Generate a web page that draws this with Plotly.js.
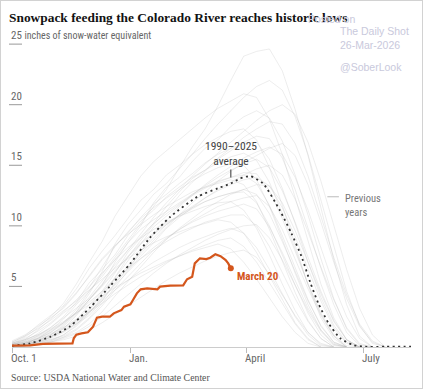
<!DOCTYPE html>
<html><head><meta charset="utf-8">
<script src="https://cdn.plot.ly/plotly-3.0.1.min.js"></script>
<style>html,body{margin:0;padding:0;background:#fff}#frame{position:absolute;left:0;top:0;width:423px;height:389px;box-sizing:border-box;border:1px solid #d2d2d2;pointer-events:none}</style>
</head><body><div id="chart" style="width:423px;height:389px"></div><div id="frame"></div>
<script>
// Days since Oct. 1 (grid for previous years, every 10 days)
const dayGrid = [0,10,20,30,40,50,60,70,80,90,100,110,120,130,140,150,160,170,180,190,200,210,220,230,240,250,260,270,280,290];

// Previous years (1990-2025), inches of snow-water equivalent, read approximately
const prev01 = [0.2,0.3,0.7,1.2,2.0,3.1,4.6,6.0,7.4,8.9,10.3,11.6,13.0,14.8,16.5,18.0,19.9,22.0,24.0,24.4,24.6,22.8,19.6,15.8,11.5,7.2,3.5,0.9,0];
const prev02 = [0.1,0.2,0.5,1.0,1.8,2.9,4.4,6.2,8.5,10.1,11.3,12.6,13.5,14.7,15.9,17.2,18.4,19.5,20.6,21.5,22.0,21.2,19.0,15.9,12.2,8.3,4.6,1.8,0.3,0];
const prev03 = [0.3,0.8,1.6,2.5,3.6,5.2,7.0,8.7,10.8,12.4,14.1,15.3,16.2,17.1,18.0,18.9,19.7,20.3,20.9,20.6,18.8,15.9,12.4,8.7,5.2,2.4,0.6,0];
const prev04 = [0.0,0.1,0.4,0.8,1.5,2.6,3.9,5.1,7.0,8.6,10.0,11.9,13.2,14.0,15.3,16.4,17.1,18.2,19.0,19.5,18.9,17.0,14.2,10.9,7.3,4.0,1.5,0.2,0];
const prev05 = [0.1,0.2,0.3,0.6,1.0,1.7,2.8,4.1,5.8,7.4,8.8,10.1,11.2,12.5,13.6,14.5,15.6,16.4,17.3,18.0,18.6,18.4,16.8,14.1,10.8,7.4,4.3,1.9,0.5,0];
const prev06 = [0.4,0.9,1.8,2.6,3.4,4.8,6.5,7.9,9.2,10.6,12.1,13.0,14.2,15.0,15.9,16.7,17.3,17.8,18.0,17.1,14.8,11.7,8.4,5.1,2.4,0.7,0];
const prev07 = [0.0,0.2,0.5,0.9,1.3,2.2,3.5,4.6,6.1,7.8,9.0,10.2,11.6,12.8,13.9,14.6,15.5,16.2,16.9,17.4,17.2,15.6,13.0,9.8,6.5,3.5,1.2,0.1,0];
const prev08 = [0.2,0.5,1.1,1.9,2.8,3.6,4.9,6.6,8.3,9.4,10.7,11.8,12.6,13.5,14.3,15.2,15.9,16.4,16.8,16.9,15.5,13.1,10.2,7.0,4.1,1.8,0.4,0];
const prev09 = [0.1,0.1,0.3,0.7,1.2,1.9,2.6,3.8,5.3,6.4,7.9,9.3,10.4,11.6,12.5,13.4,14.2,14.9,15.6,16.1,16.5,15.9,14.0,11.3,8.2,5.1,2.5,0.7,0];
const prev10 = [0.3,0.6,1.0,1.6,2.5,3.7,5.3,6.4,7.6,9.2,10.4,11.3,12.4,13.2,14.0,14.6,15.2,15.7,16.0,15.4,13.6,11.0,8.1,5.2,2.7,0.9,0];
const prev11 = [0.0,0.1,0.4,0.8,1.6,2.3,3.1,4.5,5.7,7.1,8.4,9.9,10.8,11.7,12.6,13.3,14.0,14.6,15.1,15.5,14.8,12.9,10.3,7.4,4.6,2.2,0.6,0];
const prev12 = [0.2,0.6,1.4,2.3,3.3,4.5,5.8,7.2,8.3,9.5,10.6,11.5,12.3,13.0,13.7,14.3,14.8,15.1,15.0,13.8,11.6,8.9,6.1,3.5,1.4,0.2,0];
const prev13 = [0.1,0.2,0.4,0.6,0.9,1.5,2.4,3.6,4.9,6.3,7.5,8.6,9.8,10.7,11.5,12.3,13.0,13.6,14.2,14.7,15.0,14.2,12.2,9.5,6.6,3.9,1.6,0.3,0];
const prev14 = [0.2,0.4,0.8,1.3,2.0,2.9,4.1,5.5,6.8,8.0,9.1,10.2,11.0,11.8,12.5,13.1,13.6,14.0,14.4,14.3,12.9,10.6,7.9,5.2,2.8,1.0,0.1,0];
const prev15 = [0.0,0.3,0.7,1.4,2.3,3.5,4.6,5.8,7.2,8.6,9.7,10.5,11.2,11.9,12.6,13.2,13.7,14.0,14.2,13.5,11.7,9.2,6.5,3.9,1.7,0.4,0];
const prev16 = [0.1,0.1,0.2,0.5,1.0,1.8,3.0,4.4,5.5,6.7,7.9,9.0,10.1,10.9,11.6,12.3,12.9,13.4,13.8,14.0,13.3,11.5,9.1,6.4,3.8,1.6,0.3,0];
const prev17 = [0.5,1.0,1.7,2.4,3.2,4.4,5.9,7.3,8.4,9.3,10.1,10.9,11.6,12.2,12.8,13.2,13.5,13.8,13.4,12.0,9.7,7.1,4.5,2.2,0.7,0];
const prev18 = [0.0,0.1,0.3,0.5,0.8,1.2,1.9,2.9,4.2,5.4,6.6,7.8,8.9,9.8,10.6,11.4,12.0,12.6,13.0,13.4,13.3,11.9,9.6,7.0,4.4,2.1,0.6,0];
const prev19 = [0.2,0.4,0.9,1.6,2.4,3.2,4.0,5.1,6.3,7.4,8.5,9.3,10.1,10.8,11.4,12.0,12.4,12.7,13.0,12.6,11.0,8.7,6.2,3.8,1.8,0.4,0];
const prev20 = [0.1,0.3,0.6,1.0,1.7,2.7,3.9,5.0,6.2,7.5,8.6,9.4,10.2,10.9,11.5,12.0,12.4,12.7,12.8,11.9,10.0,7.6,5.1,2.8,1.0,0.1,0];
const prev21 = [0.0,0.0,0.2,0.4,0.8,1.4,2.3,3.4,4.7,5.8,6.9,8.0,8.9,9.7,10.4,11.0,11.6,12.0,12.3,12.5,11.6,9.7,7.3,4.8,2.6,0.9,0];
const prev22 = [0.3,0.7,1.3,2.0,2.9,3.9,5.0,6.1,7.2,8.2,9.0,9.7,10.3,10.8,11.2,11.6,11.9,12.0,11.3,9.8,7.6,5.2,3.0,1.2,0.2,0];
const prev23 = [0.1,0.2,0.5,0.9,1.3,1.9,2.8,3.9,5.1,6.2,7.3,8.2,9.0,9.7,10.3,10.8,11.2,11.5,11.8,11.4,9.9,7.8,5.5,3.2,1.4,0.3,0];
const prev24 = [0.2,0.5,0.9,1.4,2.0,2.8,3.7,4.6,5.6,6.5,7.3,8.0,8.7,9.3,9.8,10.3,10.6,10.9,10.9,10.0,8.3,6.2,4.0,2.1,0.7,0];
const prev25 = [0.4,0.9,1.5,2.2,3.0,3.8,4.7,5.6,6.5,7.3,8.0,8.6,9.1,9.5,9.9,10.2,10.5,10.3,9.4,7.8,5.9,3.9,2.0,0.7,0];
const prev26 = [0.0,0.1,0.2,0.4,0.7,1.1,1.7,2.5,3.4,4.3,5.2,6.1,6.9,7.6,8.2,8.8,9.3,9.7,10.0,10.1,9.0,7.2,5.1,3.0,1.3,0.2,0];
const prev27 = [0.1,0.3,0.6,1.0,1.5,2.1,2.9,3.8,4.7,5.5,6.3,7.0,7.6,8.2,8.7,9.1,9.5,9.8,9.4,8.2,6.4,4.4,2.5,1.0,0.1,0];
const prev28 = [0.2,0.4,0.7,1.1,1.6,2.2,2.9,3.6,4.4,5.1,5.8,6.4,7.0,7.5,8.0,8.4,8.8,9.0,8.3,7.0,5.3,3.5,1.9,0.6,0];
const prev29 = [0.3,0.6,1.0,1.5,2.1,2.8,3.5,4.2,4.9,5.5,6.1,6.6,7.1,7.5,7.9,8.2,8.5,8.1,7.0,5.6,4.0,2.5,1.2,0.3,0];
const prev30 = [0.0,0.1,0.2,0.4,0.6,0.9,1.4,2.0,2.7,3.4,4.1,4.8,5.5,6.1,6.6,7.1,7.5,7.8,8.0,7.4,6.0,4.3,2.6,1.2,0.3,0];
const prev31 = [0.1,0.2,0.4,0.8,1.3,2.0,2.9,4.0,5.2,6.5,7.7,8.8,9.9,10.9,11.9,12.8,13.7,14.5,15.2,15.8,16.4,16.8,15.8,13.4,10.3,7.0,4.0,1.7,0.4,0];
const prev32 = [0.1,0.3,0.7,1.2,1.9,2.8,3.9,5.2,6.6,8.0,9.4,10.7,11.9,13.0,14.1,15.1,16.0,16.9,17.8,18.7,19.5,20.0,19.2,16.9,13.7,10.1,6.4,3.2,1.0,0];
const previousYears = [prev01,prev02,prev03,prev04,prev05,prev06,prev07,prev08,prev09,prev10,prev11,prev12,prev13,prev14,prev15,prev16,prev17,prev18,prev19,prev20,prev21,prev22,prev23,prev24,prev25,prev26,prev27,prev28,prev29,prev30,prev31,prev32];

// 1990-2025 average
const avgDays = [0,14,30,45,61,76,92,107,123,144,160,170,177,185,195,208,217,225,232,238,246,255,265,273,290,310];
const avgSwe  = [0.1,0.3,0.85,1.7,3.3,5.0,6.9,9.0,10.75,12.4,13.1,13.5,13.9,14.1,13.5,11.3,9.4,7.45,5.25,3.6,1.95,0.72,0.17,0.03,0.02,0.02];

// Current season (through March 20)
const curDays = [0,14,24,32,47,48,50,54,59,63,66,70,76,79,82,85,87,90,92,94,97,100,105,113,115,123,133,136,140,142,146,151,154,158,162,166,168,170];
const curSwe  = [0.11,0.14,0.25,0.25,0.3,0.72,1.02,1.13,1.21,1.68,2.42,2.5,2.5,2.78,2.91,3.05,3.33,3.47,3.52,3.88,4.43,4.76,4.84,4.76,4.98,5.06,5.09,5.59,5.8,6.9,7.32,7.26,7.37,7.65,7.5,7.18,6.9,6.49];

// Axis ticks
const xTickDays = [0, 92, 182, 273];
const xTickLabels = ['Oct. 1', 'Jan.', 'April', 'July'];
const yTickVals = [5, 10, 15, 20, 25];
const yTickLabels = ['5', '10', '15', '20', '25 <span style="font-size:10px">inches of snow-water equivalent</span>'];

const W = 423, H = 389, ML = 12, MR = 12, MT = 32, MB = 42;
const PW = W - ML - MR, PH = H - MT - MB;
const px = x => (x - ML) / PW;           // page pixel -> paper x
const py = y => (H - MB - y) / PH;       // page pixel -> paper y

const sans = 'Liberation Sans Narrow, Roboto Condensed, Liberation Sans, Arial, sans-serif';
const serif = 'Liberation Serif, DejaVu Serif, serif';
const orange = '#d4561c';

const traces = [];
previousYears.forEach(vals => {
  traces.push({x: dayGrid.slice(0, vals.length), y: vals, type: 'scatter', mode: 'lines',
    line: {color: 'rgba(175,175,175,0.22)', width: 1}, hoverinfo: 'skip', showlegend: false});
});
traces.push({x: avgDays, y: avgSwe, type: 'scatter', mode: 'lines',
  line: {color: '#333', width: 1.8, dash: '2px,3.5px', shape: 'spline', smoothing: 0.6}, showlegend: false});
traces.push({x: curDays, y: curSwe, type: 'scatter', mode: 'lines',
  line: {color: orange, width: 2.2}, showlegend: false});
traces.push({x: [curDays[curDays.length-1]], y: [curSwe[curSwe.length-1]], type: 'scatter', mode: 'markers',
  marker: {color: orange, size: 6}, showlegend: false});

const annotations = [];
const shapes = [];
xTickDays.forEach((d, i) => {
  annotations.push({x: d, xref: 'x', y: 0, yref: 'paper', yanchor: 'top', xanchor: 'left', xshift: -3, yshift: -3,
    text: xTickLabels[i], showarrow: false, font: {family: sans, size: 11, color: '#666'}});
});
yTickVals.forEach((v, i) => {
  annotations.push({x: px(9), xref: 'paper', y: v, yref: 'y', yanchor: 'bottom', xanchor: 'left', yshift: 0,
    text: yTickLabels[i], showarrow: false, font: {family: sans, size: 11, color: '#666'}});
  shapes.push({type: 'line', xref: 'paper', yref: 'y', x0: px(9), x1: px(22), y0: v, y1: v,
    line: {color: '#999', width: 1}});
});
// average label
annotations.push({x: 170, y: 13.5, xref: 'x', yref: 'y', text: '1990–2025<br>average', showarrow: true,
  arrowhead: 0, arrowwidth: 1.2, arrowcolor: '#555', ax: 0, ay: -30, standoff: 6,
  font: {family: sans, size: 11.5, color: '#444'}});
// previous years label
annotations.push({x: 257, y: 12.4, xref: 'x', yref: 'y', xanchor: 'left', yanchor: 'top', yshift: 7, align: 'left',
  text: 'Previous<br>years', showarrow: false, font: {family: sans, size: 10.5, color: '#777'}});
shapes.push({type: 'line', xref: 'x', yref: 'y', x0: 245, x1: 254, y0: 12.4, y1: 12.4, line: {color: '#bbb', width: 1}});
// March 20 label
annotations.push({x: 173, y: 5.85, xref: 'x', yref: 'y', xanchor: 'left', yanchor: 'middle',
  text: '<b>March 20</b>', showarrow: false, font: {family: sans, size: 11, color: orange}});
// source
annotations.push({x: px(9), y: py(377), xref: 'paper', yref: 'paper', xanchor: 'left', yanchor: 'middle',
  text: 'Source: USDA National Water and Climate Center', showarrow: false,
  font: {family: serif, size: 9.8, color: '#555'}});
// watermark
const wm = {family: 'Liberation Sans, Arial, sans-serif', size: 10.5, color: '#c9c9dc'};
annotations.push({x: px(357), y: py(19), xref: 'paper', yref: 'paper', xanchor: 'right', yanchor: 'middle', text: 'Posted on', showarrow: false, font: wm});
annotations.push({x: px(338), y: py(31), xref: 'paper', yref: 'paper', xanchor: 'left', yanchor: 'middle', text: 'The Daily Shot', showarrow: false, font: wm});
annotations.push({x: px(338), y: py(45), xref: 'paper', yref: 'paper', xanchor: 'left', yanchor: 'middle', text: '26-Mar-2026', showarrow: false, font: wm});
annotations.push({x: px(338), y: py(67), xref: 'paper', yref: 'paper', xanchor: 'left', yanchor: 'middle', text: '@SoberLook', showarrow: false, font: wm});

const layout = {
  width: W, height: H,
  margin: {l: ML, r: MR, t: MT, b: MB, pad: 0},
  paper_bgcolor: '#fff', plot_bgcolor: '#fff',
  title: {text: '<b>Snowpack feeding the Colorado River reaches historic lows</b>', xref: 'container', yref: 'container',
    x: 9/W, xanchor: 'left', y: 1 - 17/H, yanchor: 'middle',
    font: {family: serif, size: 13.4, color: '#121212'}},
  xaxis: {range: [0, 310], tickvals: xTickDays, ticktext: xTickLabels, showticklabels: false,
    ticks: 'outside', ticklen: 5, tickcolor: '#bbb', showgrid: false, zeroline: false,
    showline: true, linecolor: '#ccc', linewidth: 1, fixedrange: true},
  yaxis: {range: [0, 26], showticklabels: false, showgrid: false, zeroline: false, showline: false, ticks: '', fixedrange: true},
  showlegend: false,
  annotations: annotations,
  shapes: shapes
};
Plotly.newPlot('chart', traces, layout, {displayModeBar: false, staticPlot: true});
</script></body></html>
